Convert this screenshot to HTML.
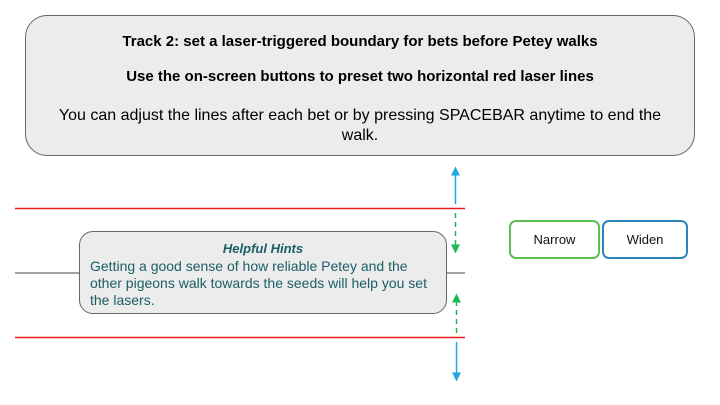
<!DOCTYPE html>
<html><head><meta charset="utf-8"><style>
body{margin:0;width:720px;height:405px;background:#fff;position:relative;overflow:hidden;font-family:"Liberation Sans",sans-serif}
.abs{position:absolute;box-sizing:border-box}
#top{left:25px;top:15px;width:670px;height:141px;border:1px solid #666;border-radius:22px;background:#ececec;text-align:center;color:#000}
#hint{left:79px;top:231px;width:368px;height:83px;border:1px solid #666;border-radius:14px;background:#ececec;color:#1b5e66;font-size:14px;line-height:17px;padding:9px 10px 0 10px}
.btn{top:220px;height:39px;border-radius:7px;border:2px solid;background:#fff;font-size:13px;text-align:center;line-height:35px;color:#111}
</style></head><body>
<svg class="abs" style="left:0;top:0" width="720" height="405">
<defs>
<marker id="bl" markerWidth="6" markerHeight="6" refX="3" refY="3" orient="auto"><path d="M0,0L6,3L0,6z" fill="#1fa8e0"/></marker>
<marker id="gr" markerWidth="6" markerHeight="6" refX="3" refY="3" orient="auto"><path d="M0,0L6,3L0,6z" fill="#1db954"/></marker>
</defs>
<line x1="15" y1="208.5" x2="465" y2="208.5" stroke="#e81c1c" stroke-width="1.5"/>
<line x1="15" y1="337.5" x2="465" y2="337.5" stroke="#e81c1c" stroke-width="1.5"/>
<line x1="15" y1="273" x2="465" y2="273" stroke="#444" stroke-width="1"/>
<line x1="455.5" y1="204" x2="455.5" y2="171" stroke="#1fa8e0" stroke-width="1.5" marker-end="url(#bl)"/>
<line x1="455.5" y1="213" x2="455.5" y2="249" stroke="#1db954" stroke-width="1.5" stroke-dasharray="5,4" marker-end="url(#gr)"/>
<line x1="456.5" y1="333" x2="456.5" y2="298" stroke="#1db954" stroke-width="1.5" stroke-dasharray="5,4" marker-end="url(#gr)"/>
<line x1="456.5" y1="342" x2="456.5" y2="377" stroke="#1fa8e0" stroke-width="1.5" marker-end="url(#bl)"/>
</svg>
<div id="top" class="abs">
<div style="font-weight:bold;font-size:15px;margin-top:17px">Track 2: set a laser-triggered boundary for bets before Petey walks</div>
<div style="font-weight:bold;font-size:15px;margin-top:18px">Use the on-screen buttons to preset two horizontal red laser lines</div>
<div style="font-size:16px;line-height:20px;margin:21px 28px 0">You can adjust the lines after each bet or by pressing SPACEBAR anytime to end the walk.</div>
</div>
<div id="hint" class="abs">
<div style="text-align:center;font-weight:bold;font-style:italic;font-size:13px;line-height:15px;margin-top:0px;margin-bottom:2px">Helpful Hints</div>
<div>Getting a good sense of how reliable Petey and the other pigeons walk towards the seeds will help you set the lasers.</div>
</div>
<div class="abs btn" style="left:509px;width:91px;border-color:#5cbf4f">Narrow</div>
<div class="abs btn" style="left:602px;width:86px;border-color:#2b86b8">Widen</div>
</body></html>
